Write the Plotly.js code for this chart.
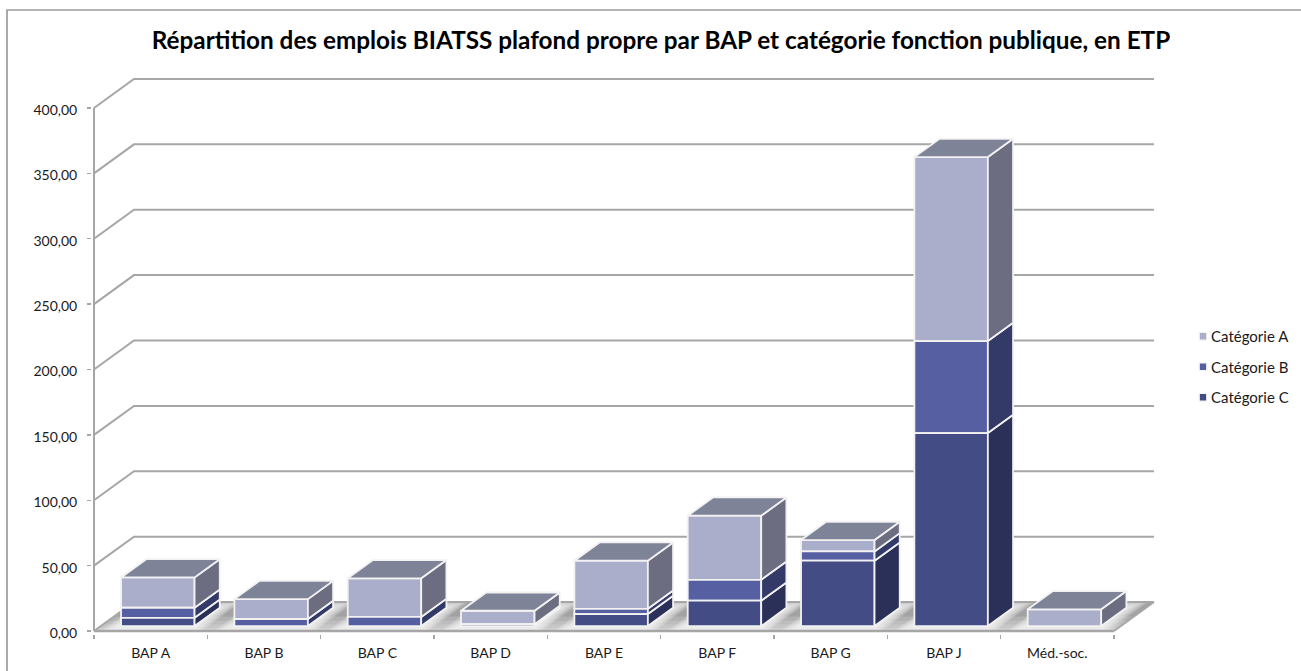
<!DOCTYPE html>
<html>
<head>
<meta charset="utf-8">
<script src="https://cdn.plot.ly/plotly-3.0.1.min.js"></script>
<style>
html,body{margin:0;padding:0;background:#fff;overflow:hidden}
/* reference has small swatches sitting close to the text */
.legend .legendpoints path{transform:translate(32px,0) scale(0.62)}
</style>
</head>
<body>
<div id="chart" style="width:1301px;height:671px"></div>
<script>
var categories = ['BAP A', 'BAP B', 'BAP C', 'BAP D', 'BAP E', 'BAP F', 'BAP G', 'BAP J', 'Méd.-soc.'];
var categorieC = [6.3, 0, 0, 0, 9.2, 19.4, 50, 147.6, 0];
var categorieB = [7.7, 5.4, 7, 1.5, 4, 16, 7.1, 70.4, 0];
var categorieA = [23.2, 15.2, 29.5, 10.2, 36.8, 49, 8.7, 140.7, 12.8];
var yTicks = [0, 50, 100, 150, 200, 250, 300, 350, 400];

// pixel layout of the fake 3d box
var plotL = 92, plotR = 1155, plotT = 78, plotB = 634;
var x0Px = 94, y0Px = 631;
var pxPerCat = 113.33, pxPerUnit = 1.3075;
var DX = 40 / pxPerCat, DY = 29 / pxPerUnit;   // full depth of the box, in data units
var d0 = 0.17, d1 = 0.8;                       // bars stand between these depths
var barW = 0.6485, barC = 0.503;

function X(i, d) { return i + d * DX; }
function Y(v, d) { return v + d * DY; }
function px(x) { return (x - plotL) / (plotR - plotL); }
function py(y) { return (plotB - y) / (plotB - plotT); }

function poly(pts) {
  return 'M' + pts.map(function (p) { return p[0] + ',' + p[1]; }).join('L') + 'Z';
}

var series = [
  {name: 'Catégorie C', values: categorieC, front: '#434c84', side: '#2b3058'},
  {name: 'Catégorie B', values: categorieB, front: '#565fa2', side: '#343a68'},
  {name: 'Catégorie A', values: categorieA, front: '#aaaecb', side: '#6c6d80'}
];
var edge = '#f2f2f2';
var topColor = '#7f8398';
var gridColor = '#a6a6a6';

var shapes = [];

// floor
shapes.push({type: 'path', layer: 'below', xref: 'x', yref: 'y', line: {width: 0}, fillcolor: '#a2a2a2',
  path: poly([[X(0, 0), Y(0, 0)], [X(0, 1), Y(0, 1)], [X(9, 1), Y(0, 1)], [X(9, 0), Y(0, 0)]])});
// lighter towards the front
[0.5, 0.35, 0.22, 0.1].forEach(function (d) {
  shapes.push({type: 'path', layer: 'below', xref: 'x', yref: 'y', line: {width: 0}, fillcolor: 'rgba(255,255,255,0.16)',
    path: poly([[X(0, 0), Y(0, 0)], [X(0, d), Y(0, d)], [X(9, d), Y(0, d)], [X(9, 0), Y(0, 0)]])});
});
// soft glow round the foot of each bar
categories.forEach(function (c, i) {
  var cx = i + barC;
  for (var k = 7; k >= 0; k--) {
    var ex = k * 2 / pxPerCat, ed = k * 0.04;
    var a = cx - barW / 2 - ex, b = cx + barW / 2 + ex;
    var f = Math.max(0, d0 - ed), g = Math.min(1, d1 + ed);
    shapes.push({type: 'path', layer: 'below', xref: 'x', yref: 'y', line: {width: 0}, fillcolor: 'rgba(255,255,255,0.17)',
      path: poly([[X(a, f), Y(0, f)], [X(a, g), Y(0, g)], [X(b, g), Y(0, g)], [X(b, f), Y(0, f)]])});
  }
});

// grid lines on the wall, with the slanted part on the side wall
yTicks.forEach(function (v) {
  shapes.push({type: 'path', layer: 'below', xref: 'x', yref: 'y', line: {color: gridColor, width: 2},
    path: 'M' + X(0, 0) + ',' + Y(v, 0) + 'L' + X(0, 1) + ',' + Y(v, 1) + 'L' + X(9, 1) + ',' + Y(v, 1)});
});
// floor edge, right side and the two front axis lines
shapes.push({type: 'path', layer: 'below', xref: 'x', yref: 'y', line: {color: gridColor, width: 2},
  path: 'M' + X(9, 1) + ',' + Y(0, 1) + 'L' + X(9, 0) + ',' + Y(0, 0)});
shapes.push({type: 'line', layer: 'below', xref: 'x', yref: 'y', line: {color: gridColor, width: 2.4},
  x0: 0, y0: 0, x1: 9, y1: 0});
shapes.push({type: 'line', layer: 'below', xref: 'x', yref: 'y', line: {color: gridColor, width: 2},
  x0: 0, y0: 0, x1: 0, y1: yTicks[yTicks.length - 1]});

// chart frame, runs off the page on the right and at the bottom
shapes.push({type: 'rect', layer: 'below', xref: 'paper', yref: 'paper', line: {color: '#9c9c9c', width: 1.7},
  x0: px(7), y0: py(700), x1: px(1340), y1: py(10)});

var barTraces = [];
var sideTraces = [];
var base = categories.map(function () { return 0; });

series.forEach(function (s) {
  var xs = [], ys = [], bases = [], sx = [], sy = [];
  categories.forEach(function (c, i) {
    var v = s.values[i];
    var cx = i + barC;
    xs.push(X(cx, d0));
    bases.push(Y(base[i], d0));
    ys.push(v > 0 ? v : null);
    if (v > 0) {
      var r = cx + barW / 2;
      sx.push(X(r, d0), X(r, d1), X(r, d1), X(r, d0), X(r, d0), null);
      sy.push(Y(base[i], d0), Y(base[i], d1), Y(base[i] + v, d1), Y(base[i] + v, d0), Y(base[i], d0), null);
    }
    base[i] += v;
  });
  // pushed to the front so the legend lists A, B, C from the top
  barTraces.unshift({type: 'bar', name: s.name, legendgroup: s.name, x: xs, y: ys, base: bases, width: barW,
    marker: {color: s.front, line: {color: edge, width: 1.8}}, hoverinfo: 'skip'});
  sideTraces.push({type: 'scatter', mode: 'lines', x: sx, y: sy, fill: 'toself', fillcolor: s.side,
    line: {color: edge, width: 1.8}, showlegend: false, hoverinfo: 'skip'});
});

// top faces
var tx = [], ty = [];
categories.forEach(function (c, i) {
  var l = i + barC - barW / 2, r = i + barC + barW / 2;
  tx.push(X(l, d0), X(l, d1), X(r, d1), X(r, d0), X(l, d0), null);
  ty.push(Y(base[i], d0), Y(base[i], d1), Y(base[i], d1), Y(base[i], d0), Y(base[i], d0), null);
});
var topTrace = {type: 'scatter', mode: 'lines', x: tx, y: ty, fill: 'toself', fillcolor: topColor,
  line: {color: edge, width: 1.8}, showlegend: false, hoverinfo: 'skip'};

var traces = barTraces.concat(sideTraces, [topTrace]);

var layout = {
  width: 1301,
  height: 671,
  paper_bgcolor: '#fff',
  plot_bgcolor: 'rgba(0,0,0,0)',
  separators: ', ',
  font: {family: 'Lato, sans-serif', size: 14, color: '#1a1a1a'},
  title: {
    text: 'Répartition des emplois BIATSS plafond propre par BAP et catégorie fonction publique, en ETP',
    font: {family: 'Lato, sans-serif', size: 24.3, color: '#000', weight: 700},
    xref: 'container', yref: 'container', x: 661 / 1301, y: 1 - 40 / 671, xanchor: 'center', yanchor: 'middle'
  },
  barmode: 'overlay',
  margin: {l: plotL, r: 1301 - plotR, t: plotT, b: 671 - plotB, autoexpand: false},
  xaxis: {
    range: [(plotL - x0Px) / pxPerCat, (plotR - x0Px) / pxPerCat],
    tickvals: categories.map(function (c, i) { return i + 0.5; }),
    ticktext: categories,
    ticks: '',
    showgrid: false, zeroline: false, showline: false,
    minor: {tickvals: [0, 1, 2, 3, 4, 5, 6, 7, 8, 9], ticks: 'outside', ticklen: 4, tickwidth: 1.3, tickcolor: gridColor, showgrid: false},
    ticklabelstandoff: 9
  },
  yaxis: {
    range: [(y0Px - plotB) / pxPerUnit, (y0Px - plotT) / pxPerUnit],
    tickvals: yTicks,
    tickformat: '.2f',
    ticks: 'outside', ticklen: 4, tickwidth: 1.3, tickcolor: gridColor,
    ticklabelstandoff: 7,
    ticklabelshift: 2,
    showgrid: false, zeroline: false, showline: false
  },
  showlegend: true,
  legend: {
    x: px(1171), y: py(320), xanchor: 'left', yanchor: 'top',
    traceorder: 'grouped', tracegroupgap: 8,
    font: {size: 15, color: '#1a1a1a'}, bgcolor: 'rgba(0,0,0,0)'
  },
  shapes: shapes
};

Plotly.newPlot('chart', traces, layout, {displayModeBar: false, staticPlot: true});
</script>
</body>
</html>
